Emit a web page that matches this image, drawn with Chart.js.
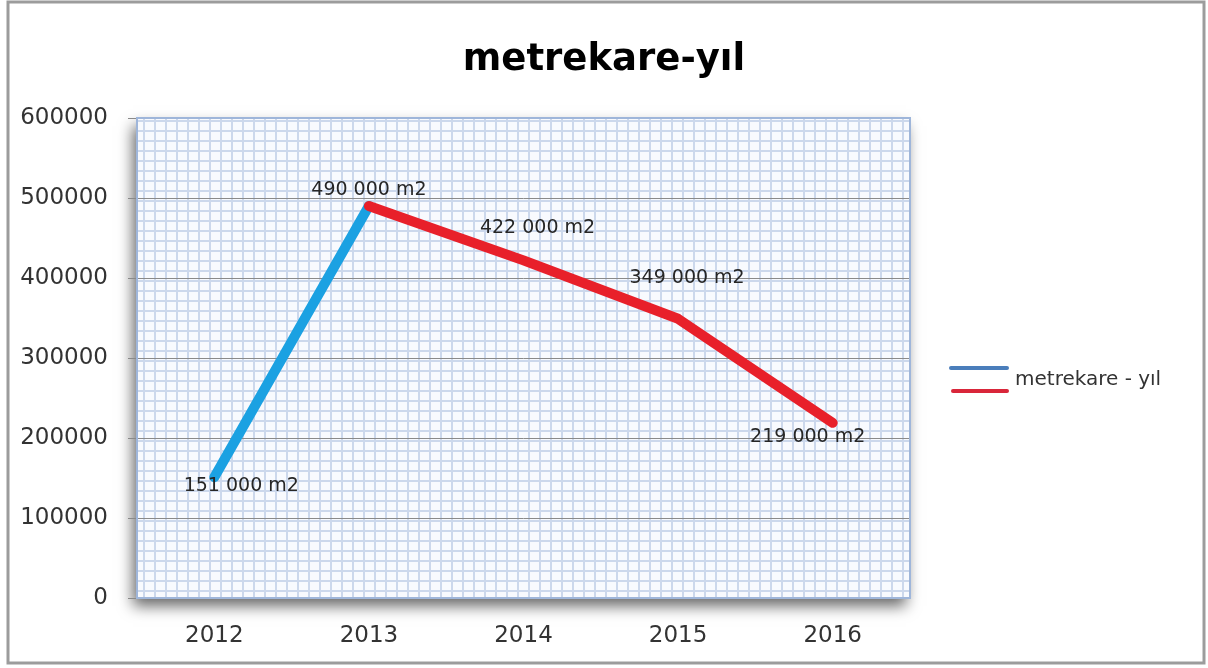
<!DOCTYPE html>
<html>
<head>
<meta charset="utf-8">
<script src="https://cdn.jsdelivr.net/npm/chart.js@4"></script>
<style>
  html, body { margin: 0; padding: 0; background: #ffffff; }
  canvas { display: block; }
</style>
</head>
<body>
<canvas id="chart" width="1208" height="668"></canvas>
<script>
// Chart data
const years = ["2012", "2013", "2014", "2015", "2016"];
const areaValues = [151000, 490000, 422000, 349000, 219000];
const yTicks = [0, 100000, 200000, 300000, 400000, 500000, 600000];
const seriesName = "metrekare - yıl";
const chartTitle = "metrekare-yıl";

// where each data label sits relative to its point (px)
const labelOffsets = [[27, 9], [0, -16], [14, -32], [9, -41], [-25, 14]];

const FONT = "'DejaVu Sans', sans-serif";
const BLUE = "#1ba1e2";
const RED = "#e8202a";

// "490000" -> "490 000 m2"
function formatArea(v) {
  return String(v).replace(/\B(?=(\d{3})+(?!\d))/g, " ") + " m2";
}

// Small tile for the graph-paper look of the plot area
function makePattern(ctx) {
  const tile = document.createElement("canvas");
  tile.width = 11;
  tile.height = 10;
  const t = tile.getContext("2d");
  t.fillStyle = "#f8fafe";
  t.fillRect(0, 0, 11, 10);
  t.fillStyle = "#ccd8ec";
  t.fillRect(0, 0, 2, 10);
  t.fillRect(0, 0, 11, 2);
  return ctx.createPattern(tile, "repeat");
}

const backdropPlugin = {
  id: "backdrop",
  beforeDraw(chart) {
    const { ctx, chartArea: a } = chart;
    ctx.save();
    // outer frame
    ctx.strokeStyle = "#9c9c9c";
    ctx.lineWidth = 3;
    ctx.strokeRect(8, 2, 1196, 661);
    // shadow under the plot area
    ctx.shadowColor = "rgba(0,0,0,0.6)";
    ctx.shadowBlur = 14;
    ctx.shadowOffsetX = -4;
    ctx.shadowOffsetY = 8;
    ctx.fillStyle = "#ffffff";
    ctx.fillRect(a.left, a.top, a.right - a.left, a.bottom - a.top);
    ctx.shadowColor = "transparent";
    ctx.fillStyle = makePattern(ctx);
    ctx.fillRect(a.left, a.top, a.right - a.left, a.bottom - a.top);
    ctx.restore();
  },
  beforeDatasetsDraw(chart) {
    const { ctx, chartArea: a } = chart;
    ctx.save();
    ctx.strokeStyle = "#9fb6da";
    ctx.lineWidth = 2;
    ctx.strokeRect(a.left, a.top, a.right - a.left, a.bottom - a.top);
    ctx.restore();
  }
};

const labelPlugin = {
  id: "pointLabels",
  afterDatasetsDraw(chart) {
    const { ctx } = chart;
    const meta = chart.getDatasetMeta(0);
    ctx.save();
    ctx.font = "19px " + FONT;
    ctx.fillStyle = "#262626";
    ctx.textAlign = "center";
    ctx.textBaseline = "middle";
    meta.data.forEach((pt, i) => {
      const off = labelOffsets[i];
      ctx.fillText(formatArea(areaValues[i]), pt.x + off[0], pt.y + off[1]);
    });
    ctx.restore();
  }
};

// Legend as a layout box on the right, so the title stays centred on the page
const legendPlugin = {
  id: "sideLegend",
  beforeInit(chart) {
    const box = {
      position: "right",
      weight: 1000,
      fullSize: false,
      options: {},
      update(maxWidth, maxHeight) {
        this.width = 298;
        this.height = maxHeight;
      },
      isHorizontal() { return false; },
      draw() {
        const ctx = chart.ctx;
        const x0 = this.left;
        ctx.save();
        ctx.lineCap = "round";
        ctx.lineWidth = 4;
        ctx.strokeStyle = "#4a7ebb";
        ctx.beginPath();
        ctx.moveTo(x0 + 41, 368);
        ctx.lineTo(x0 + 97, 368);
        ctx.stroke();
        ctx.strokeStyle = "#d9263a";
        ctx.beginPath();
        ctx.moveTo(x0 + 43, 391);
        ctx.lineTo(x0 + 97, 391);
        ctx.stroke();
        ctx.font = "20px " + FONT;
        ctx.fillStyle = "#333333";
        ctx.textBaseline = "middle";
        ctx.fillText(chart.data.datasets[0].label, x0 + 105, 380);
        ctx.restore();
      }
    };
    Chart.layouts.addBox(chart, box);
  }
};

new Chart(document.getElementById("chart"), {
  type: "line",
  data: {
    labels: years,
    datasets: [{
      label: seriesName,
      data: areaValues,
      borderWidth: 10,
      borderColor: RED,
      borderCapStyle: "round",
      borderJoinStyle: "round",
      pointRadius: 0,
      tension: 0,
      segment: {
        borderColor: ctx => ctx.p0DataIndex === 0 ? BLUE : RED
      }
    }]
  },
  options: {
    responsive: false,
    animation: false,
    layout: {
      padding: 0
    },
    plugins: {
      legend: { display: false },
      tooltip: { enabled: false },
      title: {
        display: true,
        text: chartTitle,
        color: "#000000",
        font: { family: FONT, size: 37, weight: "bold", lineHeight: 1.2 },
        padding: { top: 38, bottom: 35.6 }
      }
    },
    scales: {
      x: {
        offset: true,
        grid: { display: false, drawTicks: false },
        border: { display: false },
        ticks: {
          color: "#333333",
          padding: 24,
          font: { family: FONT, size: 23 }
        },
        afterFit: scale => { scale.height = 70; }
      },
      y: {
        min: 0,
        max: 600000,
        afterBuildTicks: scale => {
          scale.ticks = yTicks.map(v => ({ value: v }));
        },
        grid: {
          color: "#8a8a8a",
          lineWidth: 1,
          drawTicks: true,
          tickLength: 9,
          tickColor: "#8a8a8a"
        },
        border: { display: false },
        ticks: {
          color: "#333333",
          padding: 20,
          font: { family: FONT, size: 23 },
          callback: v => String(v)
        },
        afterFit: scale => { scale.width = 137; }
      }
    }
  },
  plugins: [backdropPlugin, labelPlugin, legendPlugin]
});
</script>
</body>
</html>
